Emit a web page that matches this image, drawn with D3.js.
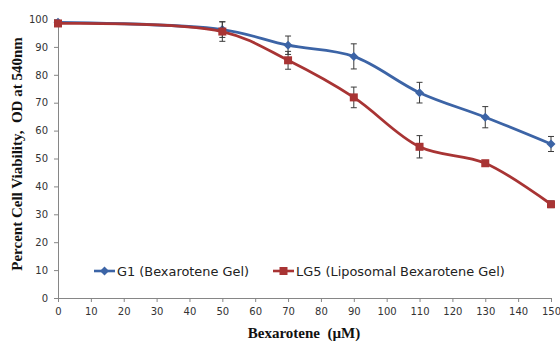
<!DOCTYPE html>
<html>
<head>
<meta charset="utf-8">
<script src="https://cdn.jsdelivr.net/npm/d3@7"></script>
<style>
  body { margin: 0; background: #fff; }
  svg { display: block; }
  .tick text { font-family: "DejaVu Sans", sans-serif; font-size: 10px; fill: #333; }
  .axis-title { font-family: "Liberation Serif", serif; font-weight: bold; fill: #111; white-space: pre; }
  .legend text { font-family: "DejaVu Sans", sans-serif; font-size: 12.9px; fill: #222; }
</style>
</head>
<body>
<svg class="chart"></svg>
<script>
// DATA /////////////////////////////////
const doses = [0, 50, 70, 90, 110, 130, 150];
const g1Values = [98.8, 96.2, 90.6, 86.6, 73.6, 64.8, 55.2];
const g1Errors = [0.5, 2.8, 3.3, 4.5, 3.7, 3.8, 2.7];
const lg5Values = [98.4, 95.5, 85.2, 71.9, 54.2, 48.3, 33.6];
const lg5Errors = [0.5, 3.5, 3.2, 3.7, 4.0, 1.0, 1.2];
const xTicks = d3.range(0, 151, 10);
const yTicks = d3.range(0, 101, 10);

const series = [
  { name: "G1 (Bexarotene Gel)", values: g1Values, errors: g1Errors, color: "#3c64a6", marker: "diamond" },
  { name: "LG5 (Liposomal Bexarotene Gel)", values: lg5Values, errors: lg5Errors, color: "#a83434", marker: "square" },
];

// DEFINITIONS /////////////////////////////////
const width = 560;
const height = 342;

const svg = d3.select(".chart").attr("width", width).attr("height", height);

const x = d3.scaleLinear().domain([0, 150]).range([58, 551]);
const y = d3.scaleLinear().domain([0, 100]).range([298, 19]);

// AXES ///////////////////////////////////
const xAxis = svg
  .append("g")
  .attr("transform", `translate(0, ${y(0)})`)
  .call(d3.axisBottom(x).tickValues(xTicks).tickSize(4).tickPadding(6).tickSizeOuter(0));

const yAxis = svg
  .append("g")
  .attr("transform", `translate(${x(0)}, 0)`)
  .call(d3.axisLeft(y).tickValues(yTicks).tickSize(4).tickPadding(6).tickSizeOuter(0));

[xAxis, yAxis].forEach((ax) => {
  ax.select(".domain").attr("stroke", "#868686");
  ax.selectAll(".tick line").attr("stroke", "#868686");
});

svg
  .append("text")
  .attr("class", "axis-title")
  .attr("x", 304)
  .attr("y", 338)
  .attr("text-anchor", "middle")
  .style("font-size", "15px")
  .text("Bexarotene  (\u00b5M)");

svg
  .append("text")
  .attr("class", "axis-title")
  .attr("transform", "translate(22, 154) rotate(-90)")
  .attr("text-anchor", "middle")
  .style("font-size", "15px")
  .text("Percent Cell Viability,  OD at 540nm");

// SERIES ///////////////////////////////////
const line = d3
  .line()
  .x((d) => x(d.dose))
  .y((d) => y(d.value))
  .curve(d3.curveCatmullRom.alpha(0.5));

const drawMarker = (sel, s, cx, cy) => {
  if (s.marker === "diamond") {
    sel
      .append("path")
      .attr("d", `M${cx},${cy - 4.5}L${cx + 4.5},${cy}L${cx},${cy + 4.5}L${cx - 4.5},${cy}Z`)
      .attr("fill", s.color);
  } else {
    sel
      .append("rect")
      .attr("x", cx - 4)
      .attr("y", cy - 4)
      .attr("width", 8)
      .attr("height", 8)
      .attr("fill", s.color);
  }
};

series.forEach((s) => {
  const pts = doses.map((dose, i) => ({ dose, value: s.values[i], err: s.errors[i] }));
  const g = svg.append("g");

  // error bars
  const eb = g
    .selectAll(".err")
    .data(pts)
    .enter()
    .append("g")
    .attr("stroke", "#3a3a3a")
    .attr("stroke-width", 1);
  eb.append("line")
    .attr("x1", (d) => x(d.dose))
    .attr("x2", (d) => x(d.dose))
    .attr("y1", (d) => y(d.value + d.err))
    .attr("y2", (d) => y(d.value - d.err));
  eb.append("line")
    .attr("x1", (d) => x(d.dose) - 3)
    .attr("x2", (d) => x(d.dose) + 3)
    .attr("y1", (d) => y(d.value + d.err))
    .attr("y2", (d) => y(d.value + d.err));
  eb.append("line")
    .attr("x1", (d) => x(d.dose) - 3)
    .attr("x2", (d) => x(d.dose) + 3)
    .attr("y1", (d) => y(d.value - d.err))
    .attr("y2", (d) => y(d.value - d.err));

  g.append("path")
    .datum(pts)
    .attr("fill", "none")
    .attr("stroke", s.color)
    .attr("stroke-width", 2.8)
    .attr("d", line);

  pts.forEach((d) => drawMarker(g, s, x(d.dose), y(d.value)));
});

// LEGEND ///////////////////////////////////
const legendPos = [94, 273];
const legend = svg.append("g").attr("class", "legend");
series.forEach((s, i) => {
  const lx = legendPos[i];
  const ly = 271;
  const item = legend.append("g");
  item
    .append("line")
    .attr("x1", lx)
    .attr("x2", lx + 21)
    .attr("y1", ly)
    .attr("y2", ly)
    .attr("stroke", s.color)
    .attr("stroke-width", 2.6);
  drawMarker(item, s, lx + 10.5, ly);
  item
    .append("text")
    .attr("x", lx + 23)
    .attr("y", ly)
    .attr("dy", "0.36em")
    .text(s.name);
});
</script>
</body>
</html>
